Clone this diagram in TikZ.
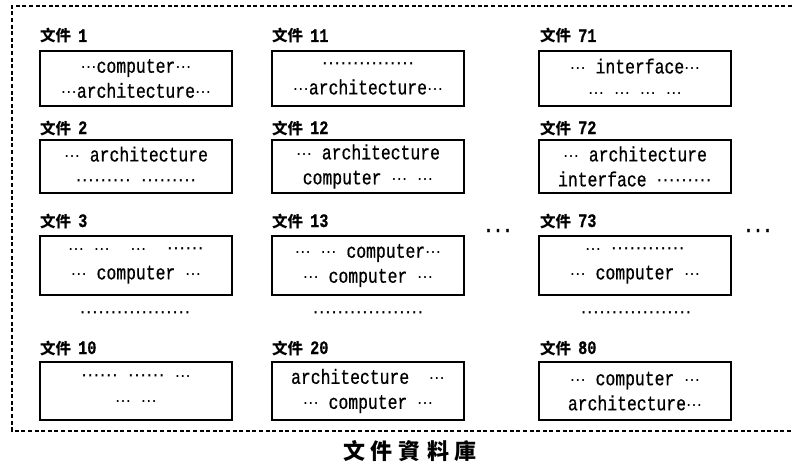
\documentclass[tikz,border=0pt]{standalone}
\usepackage{fontspec}
\setmainfont{Liberation Serif}
\newfontfamily\cjk{Noto Sans CJK TC}
\newfontfamily\latf[FakeStretch=0.8, FakeBold=0.6]{Liberation Mono}
\newfontfamily\dejavu{DejaVu Sans}
\newcommand\el{{\dejavu\fontsize{16}{16}\selectfont ⋯}}
\newcommand\ed{{\dejavu\fontsize{18.5}{18}\selectfont ⋯}}
\begin{document}
\begin{tikzpicture}[x=1pt,y=-1pt,
  docbox/.style={draw, line width=1.5pt, minimum width=192pt, inner sep=0pt,
    align=center, font=\latf\fontsize{20.5}{25}\selectfont},
  lbl/.style={anchor=west, inner sep=0pt, font=\cjk\bfseries\fontsize{15.5}{15}\selectfont},
  sepdots/.style={inner sep=0pt},
  bigdots/.style={inner sep=0pt, anchor=base, font=\latf\bfseries\fontsize{20}{20}\selectfont},
  outer/.style={line width=1.3pt, dash pattern=on 4pt off 2.6pt}]
\useasboundingbox (0,0) rectangle (792,466);
% outer dashed frame (open on the right)
\coordinate (tr) at (792,6);
\coordinate (tl) at (12,6);
\coordinate (bl) at (12,431);
\coordinate (br) at (792,431);
\draw[outer] (tr) -- (tl) -- (bl) -- (br);
% labels
\newcommand\lab[3]{\node[lbl] (#1) at (#2) {文件\hspace{7pt}{\latf\fontsize{19}{19}\selectfont #3}};}
\lab{l1}{40,36}{1}
\lab{l2}{40,128}{2}
\lab{l3}{40,221}{3}
\lab{l10}{40,348}{10}
\lab{l11}{272,36}{11}
\lab{l12}{272,128}{12}
\lab{l13}{272,221}{13}
\lab{l20}{272,348}{20}
\lab{l71}{540,36}{71}
\lab{l72}{540,128}{72}
\lab{l73}{540,221}{73}
\lab{l80}{540,348}{80}
% column 1
\node[docbox, minimum height=55pt] (b1) at (136,78.5) {\el computer\el\\\el architecture\el};
\node[docbox, minimum height=53pt] (b2) at (136,166.5) {\el{} architecture\\\ed\ed\ed{} \ed\ed\ed};
\node[docbox, minimum height=59pt] (b3) at (136,265.5) {\el{} \el\quad\el\quad\ed\ed\\\el{} computer \el};
\node[docbox, minimum height=58pt] (b10) at (136,391) {\ed\ed{} \ed\ed{} \el\\\el{} \el};
% column 2
\node[docbox, minimum height=55pt] (b11) at (368,78.5) {\ed\ed\ed\ed\ed\\\el architecture\el};
\node[docbox, minimum height=53pt] (b12) at (368,166.5) {\el{} architecture\\computer \el{} \el};
\node[docbox, minimum height=59pt] (b13) at (368,265.5) {\el{} \el{} computer\el\\\el{} computer \el};
\node[docbox, minimum height=58pt] (b20) at (368,391) {architecture\ \ \el\\\el{} computer \el};
% column 3
\node[docbox, minimum height=55pt] (b71) at (635,78.5) {\el{} interface\el\\\el{} \el{} \el{} \el};
\node[docbox, minimum height=53pt] (b72) at (635,166.5) {\el{} architecture\\interface \ed\ed\ed};
\node[docbox, minimum height=59pt] (b73) at (635,265.5) {\el{} \ed\ed\ed\ed\\\el{} computer \el};
\node[docbox, minimum height=58pt] (b80) at (635,391) {\el{} computer \el\\architecture\el};
% separator dots
\node[sepdots] (s1) at (135,315) {\ed\ed\ed\ed\ed\ed};
\node[sepdots] (s2) at (368,315) {\ed\ed\ed\ed\ed\ed};
\node[sepdots] (s3) at (636,315) {\ed\ed\ed\ed\ed\ed};
% continuation dots
\node[bigdots] (c2) at (498,232) {...};
\node[bigdots] (c3) at (758,232) {...};
% title
\node[inner sep=0pt, font=\cjk\bfseries\fontsize{22}{22}\selectfont] (title) at (410,451)
  {文\hspace{6pt}件\hspace{6pt}資\hspace{6pt}料\hspace{6pt}庫};
\end{tikzpicture}
\end{document}
